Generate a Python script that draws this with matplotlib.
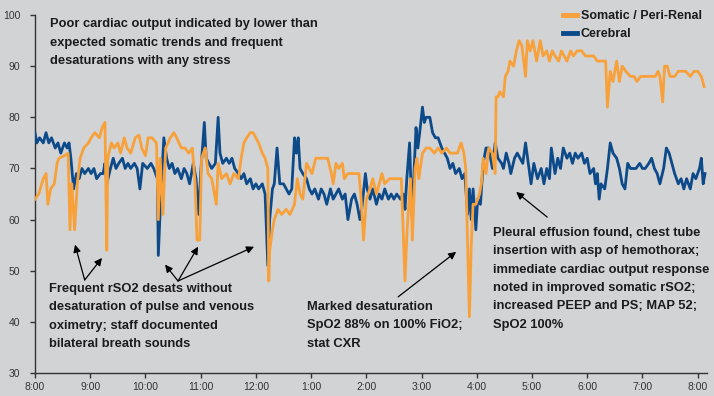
import matplotlib
matplotlib.use("Agg")
import matplotlib.pyplot as plt

# minutes after 8:00 and rSO2 values for each channel
som_t = [0, 4, 9, 12, 14, 17, 21, 24, 26, 32, 36, 38, 40, 43, 46, 49, 53, 58,
         61, 65, 70, 73, 76, 78, 79, 83, 86, 90, 93, 97, 100, 104, 109, 113, 116, 120,
         123, 127, 132, 134, 136, 139, 142, 147, 151, 154, 159, 163, 167, 171, 174, 176, 179, 181,
         185, 188, 192, 197, 199, 203, 208, 212, 216, 221, 224, 227, 230, 234, 237, 240,
         243, 247, 250, 253, 254, 255, 258, 260, 264, 268, 273,
         277, 282, 285, 288, 291, 295, 298, 301, 305, 310, 314, 318, 322, 324, 327, 330,
         334, 336, 340, 345, 349, 352, 354, 357, 360,
         364, 367, 371, 374, 377, 380, 385, 389, 393, 398, 402, 404, 408, 410, 413, 415,
         417, 421, 425, 429, 434, 438, 442, 447, 451,
         454, 459, 463, 466, 468, 472, 474, 476, 479, 483, 485, 487, 490, 493, 497, 500, 501,
         503, 505, 509, 511, 514, 516, 520, 523, 526, 529, 533, 535, 538, 541, 545, 549,
         552, 556, 559, 562, 565, 569, 572, 575, 578, 582, 585, 589, 594, 598, 602, 607,
         611, 615, 620, 622, 625, 628, 632, 635, 638, 642, 647, 651, 654, 658, 662, 666,
         671, 674, 677, 679, 682, 684, 687, 690, 695, 699, 703, 707, 712, 716, 720, 724, 727]
som_v = [64, 65, 68, 69, 63, 66, 67, 71, 72, 72.5, 73, 58, 67, 58, 67, 72, 74, 75,
         76, 77, 76, 78, 79, 54, 72, 75, 74, 75, 73, 76, 74, 73, 76, 76.5, 74, 72.5,
         76, 76, 75, 60, 72, 61, 74, 76, 77, 76, 74, 74, 73, 74, 67, 56, 56, 72,
         74, 69, 68, 63, 71, 68, 69, 67, 69, 68, 72, 75, 76, 77, 77, 76,
         75, 73, 72, 70, 48, 54, 58, 60, 62, 61, 62,
         61, 63, 68, 65, 64, 71, 70, 69, 72, 72, 72, 72, 69, 67, 71, 70,
         71, 68, 69, 69, 69, 69, 65, 56, 64,
         66, 68, 65, 67, 69, 67, 68, 68, 68, 68, 48, 57, 68, 56, 70, 72,
         68, 73, 74, 74, 73, 74, 73, 74, 73,
         73, 73, 75, 73, 70, 41, 55, 63, 63, 65, 67, 72, 69, 74, 73, 69, 84,
         84, 85, 84, 88, 89, 91, 90, 93, 95, 94, 88, 95, 93, 95, 91, 95,
         92, 93, 91, 93, 92, 91, 93, 92, 91, 93, 92, 93, 93, 92, 92, 92,
         91, 91, 91, 82, 89, 87, 91, 87, 90, 89, 88, 88, 87, 88, 88, 88,
         88, 88, 89, 88, 83, 90, 90, 88, 88, 89, 89, 89, 88, 89, 89, 88, 86]

cer_t = [0, 2, 5, 9, 12, 15, 18, 22, 25, 28, 32, 35, 37, 39, 41, 42, 45, 48, 51, 54, 58,
         61, 64, 67, 71, 74, 76, 78, 82, 85, 88, 91, 95, 98, 101, 104, 108, 111, 114, 117,
         122, 126, 129, 133, 134, 137, 140, 143, 146, 149, 152, 155, 159, 162, 165, 168,
         172, 175, 178,
         180, 184, 186, 189, 192, 196, 199, 201, 204, 208, 211, 214, 217, 221, 224, 227,
         230, 234, 237, 240, 243, 247, 250, 253, 255, 258, 260, 263, 266, 270, 273,
         276, 279, 282, 284, 286, 288, 291, 295, 298, 301, 304, 308, 311, 314, 317, 321,
         324, 327, 330, 334, 337, 340, 344, 347, 350, 353, 355, 359, 361,
         364, 367, 371, 374, 377, 380, 384, 387, 390, 393, 397, 400, 402, 404, 407, 409,
         410, 412, 414, 416, 418, 421, 423, 425, 429, 432, 435, 438, 442, 445, 448, 451,
         454, 457, 461, 464, 467, 470, 472, 474, 476, 479, 481, 484, 487, 490, 493, 497,
         500, 503, 507, 509, 512, 515, 517, 521, 524, 527, 530, 533, 536, 539, 542, 546,
         550, 553, 556, 559, 561, 565, 568, 571, 574, 578, 581, 584, 587, 590, 594, 597,
         600, 603, 607, 609, 611, 613, 615, 619, 622, 625, 628, 632, 635, 638, 641, 644,
         647, 650, 653, 657, 660, 663, 667, 670, 673, 676, 679, 683, 686, 689, 692, 695,
         699, 702, 705, 708, 712, 715, 718, 722, 724, 726, 728]
cer_v = [77, 75, 76, 75, 77, 75, 76, 74, 75, 73, 75, 74, 75, 72, 68, 66, 69, 68, 70, 69, 70,
         69, 70, 68, 69, 69, 71, 67, 70, 72, 70, 71, 72, 70, 71, 70, 71, 70, 66, 71,
         70, 71, 70, 68, 53, 66, 76, 72, 70, 71, 69, 70, 68, 70, 69, 67,
         71, 68, 61,
         69, 79, 72, 71, 70, 71, 80, 73, 71, 72, 71, 72, 70, 69, 68, 69,
         67, 68, 66, 67, 66, 67, 65, 51, 60, 66, 67, 74, 67, 67, 66,
         65, 66, 76, 73, 76, 70, 69, 68, 66, 65, 66, 64, 66, 65, 63, 66,
         64, 65, 66, 64, 65, 60, 64, 65, 63, 60, 62, 69, 66,
         64, 66, 63, 65, 64, 66, 64, 65, 64, 65, 64, 65, 62, 68, 75, 64,
         60, 70, 78, 74, 77, 82, 79, 80, 80, 77, 76, 76, 74, 73, 72, 70,
         71, 69, 70, 68, 69, 61, 66, 60, 66, 58, 64, 63, 71, 74, 74, 70,
         75, 72, 71, 70, 73, 71, 69, 72, 73, 72, 71, 75, 71, 67, 71, 68,
         70, 67, 70, 68, 74, 69, 72, 70, 74, 72, 73, 71, 73, 72, 73, 71,
         72, 69, 70, 67, 69, 64, 67, 66, 70, 75, 73, 72, 70, 67, 66, 71,
         70, 70, 70, 71, 70, 70, 71, 72, 70, 69, 67, 70, 74, 73, 71, 69,
         67, 68, 66, 68, 66, 69, 68, 70, 72, 67, 69]

tick_min = [0, 60, 120, 180, 240, 300, 360, 420, 480, 540, 600, 660, 720]
tick_lbl = ["8:00", "9:00", "10:00", "11:00", "12:00", "1:00", "2:00",
            "3:00", "4:00", "5:00", "6:00", "7:00", "8:00"]

ORANGE = "#f8a13a"
BLUE = "#0d4a8a"
BG = "#d2d3d5"
INK = "#1b1b1b"
narrow = ["Liberation Sans Narrow", "Liberation Sans", "DejaVu Sans"]

fig = plt.figure(figsize=(7.14, 3.96), dpi=100, facecolor=BG)
ax = fig.add_axes([0.049, 0.058, 0.941, 0.904], facecolor=BG)

ax.plot(cer_t, cer_v, color=BLUE, lw=2.0, label="Cerebral", zorder=3)
ax.plot(som_t, som_v, color=ORANGE, lw=2.0, label="Somatic / Peri-Renal", zorder=4)

ax.set_xlim(0, 730)
ax.set_ylim(30, 100)
ax.set_yticks(range(30, 101, 10))
ax.set_xticks(tick_min)
ax.set_xticklabels(tick_lbl)
for s in ["top", "right"]:
    ax.spines[s].set_visible(False)
for s in ["left", "bottom"]:
    ax.spines[s].set_color("#333333")
    ax.spines[s].set_linewidth(1.0)
ax.tick_params(axis="both", direction="out", length=3.5, width=1.0, color="#333333",
               labelcolor="#333333", labelsize=7.5)
ax.tick_params(axis="y", pad=7)
ax.tick_params(axis="x", pad=3)
for lab in ax.get_xticklabels() + ax.get_yticklabels():
    lab.set_family(narrow)

handles, labels = ax.get_legend_handles_labels()
leg = ax.legend(handles[::-1], labels[::-1], loc="upper right", frameon=False,
                handlelength=1.1, handletextpad=0.3, labelspacing=0.5,
                borderaxespad=0.0, bbox_to_anchor=(1.0, 1.028),
                prop={"family": narrow, "weight": "bold", "size": 9})
for h in leg.legend_handles:
    h.set_linewidth(3.5)
for t in leg.get_texts():
    t.set_color(INK)

note = dict(family=narrow, weight="bold", fontsize=9.3, color=INK,
            va="top", ha="left", linespacing=1.71)
ax.text(16, 99.4, "Poor cardiac output indicated by lower than\n"
        "expected somatic trends and frequent\n"
        "desaturations with any stress", **note)
ax.text(15, 47.6, "Frequent rSO2 desats without\n"
        "desaturation of pulse and venous\n"
        "oximetry; staff documented\n"
        "bilateral breath sounds", **note)
ax.text(296, 44.1, "Marked desaturation\n"
        "SpO2 88% on 100% FiO2;\n"
        "stat CXR", **note)
ax.text(498, 58.6, "Pleural effusion found, chest tube\n"
        "insertion with asp of hemothorax;\n"
        "immediate cardiac output response\n"
        "noted in improved somatic rSO2;\n"
        "increased PEEP and PS; MAP 52;\n"
        "SpO2 100%", **note)

arrow = dict(arrowstyle="-|>", color="black", lw=0.9, mutation_scale=11,
             shrinkA=0, shrinkB=0)
for tail, head in [((54, 48.2), (43.5, 55.1)),
                   ((54, 48.2), (72.8, 52.5)),
                   ((155.4, 48.0), (141.3, 51.2)),
                   ((155.4, 48.0), (177.2, 54.7)),
                   ((155.4, 48.0), (238, 54.7)),
                   ((394.6, 44.9), (457.6, 53.7)),
                   ((556.5, 60.5), (522.8, 65.4))]:
    ax.annotate("", xy=head, xytext=tail, arrowprops=arrow, zorder=5)

fig.savefig("out.png", dpi=100, facecolor=BG)
